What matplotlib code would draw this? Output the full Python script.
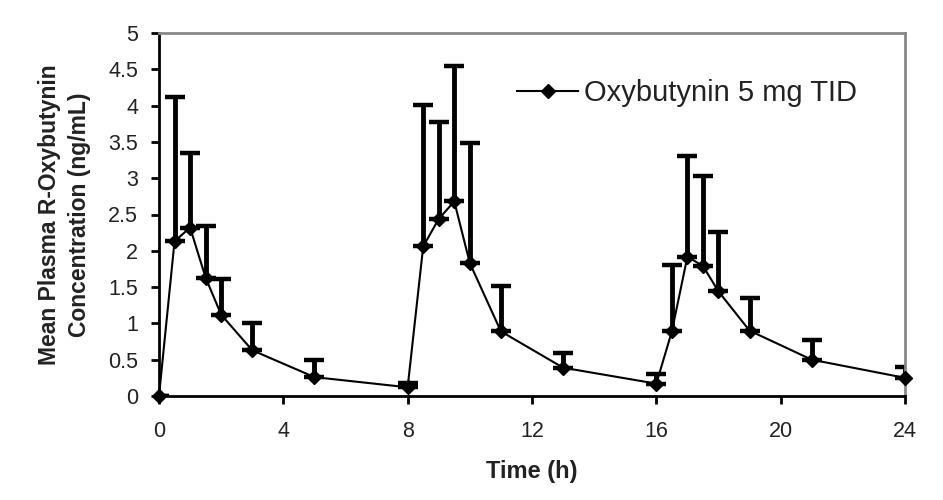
import numpy as np
import matplotlib
matplotlib.use("Agg")
import matplotlib.pyplot as plt

plt.rcParams['font.family'] = ['Liberation Sans', 'DejaVu Sans']

# --- datos ---
tiempo = [0, 0.5, 1, 1.5, 2, 3, 5, 8, 8.5, 9, 9.5, 10, 11, 13, 16,
          16.5, 17, 17.5, 18, 19, 21, 24]
media = [0.0, 2.13, 2.32, 1.63, 1.12, 0.63, 0.26, 0.12, 2.06, 2.44, 2.68, 1.83,
         0.89, 0.39, 0.17, 0.89, 1.92, 1.79, 1.44, 0.90, 0.50, 0.25]
limite_sup = [0.0, 4.12, 3.35, 2.34, 1.61, 1.01, 0.50, 0.18, 4.01, 3.77, 4.54, 3.48,
              1.51, 0.59, 0.30, 1.81, 3.31, 3.03, 2.26, 1.35, 0.77, 0.40]
etiqueta = 'Oxybutynin 5 mg TID'
xticks = [0, 4, 8, 12, 16, 20, 24]
yticks = [0, 0.5, 1, 1.5, 2, 2.5, 3, 3.5, 4, 4.5, 5]
ytick_labels = ['0', '0.5', '1', '1.5', '2', '2.5', '3', '3.5', '4', '4.5', '5']

media = np.array(media)
err_sup = np.array(limite_sup) - media
err_inf = np.zeros_like(media)

fig = plt.figure(figsize=(9.43, 5.0), dpi=100)
ax = fig.add_axes([0.1686, 0.208, 0.7911, 0.726])

# barras de error (solo hacia arriba)
ax.errorbar(tiempo, media, yerr=[err_inf, err_sup], fmt='none', ecolor='black',
            elinewidth=3.5, capsize=7, capthick=3.2, zorder=2)
ax.plot(tiempo, media, color='black', linewidth=1.5, marker='D', markersize=7.5,
        label=etiqueta, zorder=3, clip_on=False)

ax.set_xlim(0, 24)
ax.set_ylim(0, 5)
ax.set_xticks(xticks)
ax.set_yticks(yticks)
ax.set_yticklabels(ytick_labels)
ax.tick_params(axis='both', direction='out', length=6, width=2, labelsize=15.5,
               labelcolor='#222222', color='black')
ax.tick_params(axis='x', pad=12)
ax.tick_params(axis='y', pad=9)

for lado in ['left', 'bottom']:
    ax.spines[lado].set_linewidth(2)
    ax.spines[lado].set_color('black')
for lado in ['top', 'right']:
    ax.spines[lado].set_linewidth(2)
    ax.spines[lado].set_color('#888888')

ax.set_xlabel('Time (h)', fontsize=17, fontweight='bold', color='#222222')
ax.set_ylabel('Mean Plasma R-Oxybutynin\nConcentration (ng/mL)', fontsize=16.5,
              fontweight='bold', color='#222222', linespacing=1.4)
ax.xaxis.set_label_coords(0.5, -0.175)
ax.yaxis.set_label_coords(-0.091, 0.5)

leg = ax.legend(loc='center left', bbox_to_anchor=(0.4625, 0.835), fontsize=21,
                frameon=True, fancybox=False, borderaxespad=0, borderpad=0.45,
                handlelength=2.1, handletextpad=0.2, labelcolor='#222222')
leg.get_frame().set_facecolor('white')
leg.get_frame().set_edgecolor('none')
leg.get_frame().set_alpha(1)

fig.savefig('out.png', dpi=100)
